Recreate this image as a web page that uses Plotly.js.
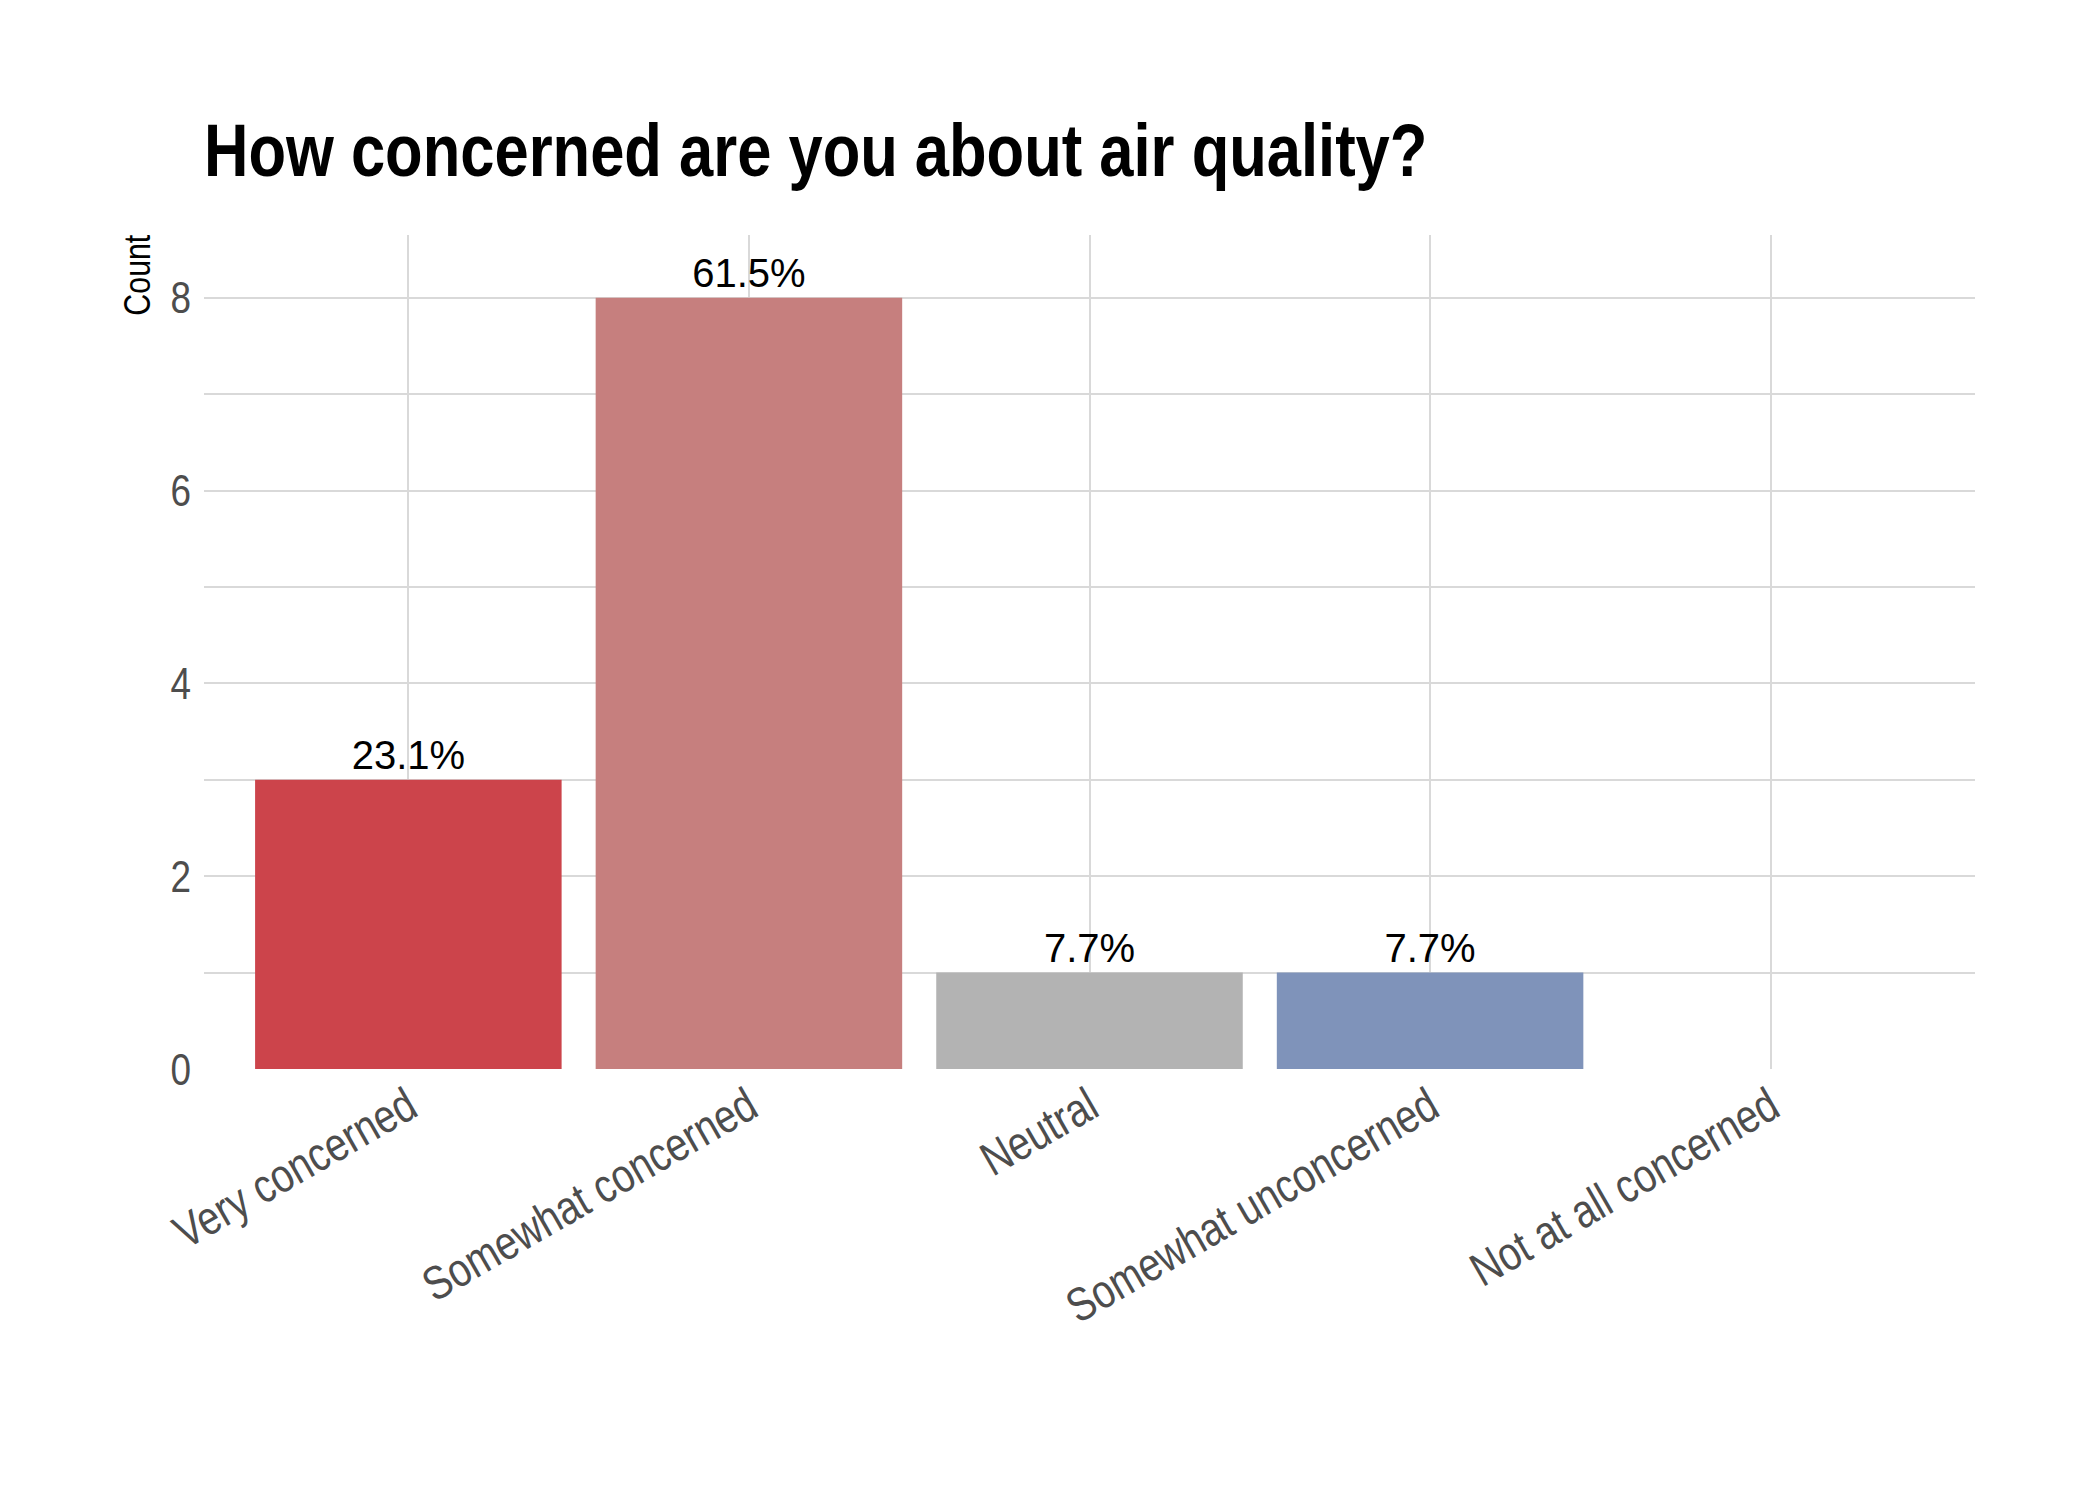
<!DOCTYPE html>
<html>
<head>
<meta charset="utf-8">
<script src="https://cdn.plot.ly/plotly-3.0.1.min.js"></script>
<style>
  html, body { margin: 0; padding: 0; background: #ffffff; }
  #chart { width: 2100px; height: 1500px; }
</style>
</head>
<body>
<div id="chart"></div>
<script>
// ---- data ----
const categories = ["Very concerned", "Somewhat concerned", "Neutral", "Somewhat unconcerned", "Not at all concerned"];
const counts = [3, 8, 1, 1, 0];
const percentLabels = ["23.1%", "61.5%", "7.7%", "7.7%", ""];
const barColors = ["#CC444B", "#C67F7E", "#B3B3B3", "#7F93BA", "#7F93BA"];
const yTickValues = [0, 2, 4, 6, 8];
const titleText = "How concerned are you about air quality?";
const yTitleText = "Count";

const sans = "'Liberation Sans', Arial, Helvetica, sans-serif";
const gridColor = "#d9d9d9";

const trace = {
  type: "bar",
  x: categories,
  y: counts,
  width: 0.9,
  marker: { color: barColors, line: { width: 0 } },
  text: percentLabels,
  textposition: "outside",
  constraintext: "none",
  cliponaxis: false,
  textfont: { family: sans, size: 40, color: "#000000" },
  hoverinfo: "x+y"
};

const layout = {
  width: 2100,
  height: 1500,
  paper_bgcolor: "#ffffff",
  plot_bgcolor: "#ffffff",
  margin: { l: 204, r: 125, t: 235, b: 431, pad: 0 },
  showlegend: false,
  bargap: 0.1,
  title: {
    text: "<b>" + titleText + "</b>",
    font: { family: sans, size: 75, color: "#000000" },
    x: 0, xref: "paper", xanchor: "left",
    y: 1 - 150 / 1500, yref: "container", yanchor: "middle"
  },
  xaxis: {
    type: "category",
    range: [-0.6, 4.6],
    showgrid: true,
    gridcolor: gridColor,
    gridwidth: 2,
    zeroline: false,
    showline: false,
    ticks: "",
    tickangle: -30,
    tickfont: { family: sans, size: 47.5, color: "#4d4d4d" },
    fixedrange: true
  },
  yaxis: {
    range: [0, 8.65],
    tickvals: yTickValues,
    ticktext: yTickValues.map(String),
    showgrid: true,
    gridcolor: gridColor,
    gridwidth: 2,
    minor: { dtick: 1, tick0: 0, showgrid: true, gridcolor: gridColor, gridwidth: 2 },
    zeroline: false,
    showline: false,
    ticks: "",
    ticklabelstandoff: 12,
    tickfont: { family: sans, size: 45, color: "#4d4d4d" },
    fixedrange: true
  },
  annotations: [{
    text: yTitleText,
    xref: "paper", yref: "paper",
    x: 0, y: 0.9514,
    xshift: -66,
    xanchor: "center", yanchor: "middle",
    textangle: -90,
    showarrow: false,
    font: { family: sans, size: 37, color: "#000000" }
  }]
};

// condense the narrow-font texts (title, axis ticks, axis title) like the reference
function condense(gd, factor) {
  const sel = [
    ".g-gtitle text",
    ".xtick text",
    ".ytick text",
    ".annotation-text"
  ];
  sel.forEach(s => {
    gd.querySelectorAll(s).forEach(t => {
      const len = t.getComputedTextLength();
      if (len > 0) {
        t.setAttribute("textLength", (len * factor).toFixed(2));
        t.setAttribute("lengthAdjust", "spacingAndGlyphs");
      }
    });
  });
}

Plotly.newPlot("chart", [trace], layout, { displayModeBar: false, staticPlot: true })
  .then(gd => condense(gd, 0.82));
</script>
</body>
</html>
